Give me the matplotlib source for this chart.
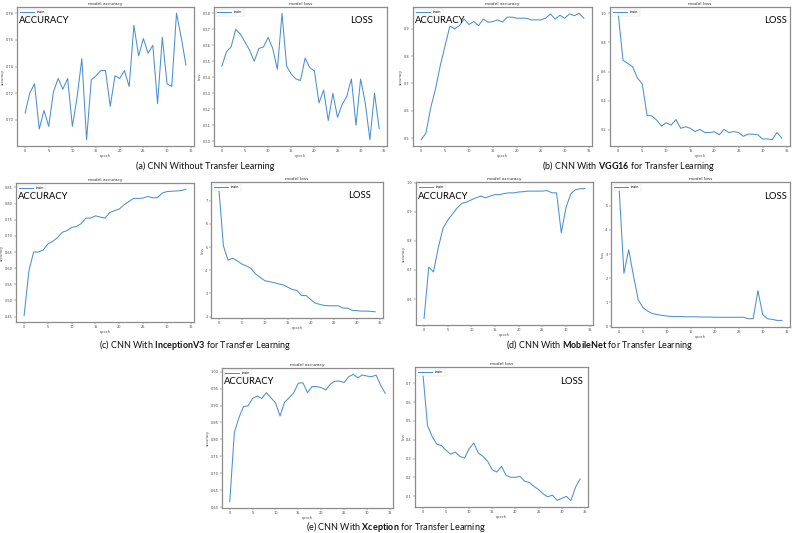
import matplotlib.pyplot as plt

plt.rcParams['mathtext.fontset'] = 'custom'
plt.rcParams['mathtext.rm'] = 'Lato'
plt.rcParams['mathtext.bf'] = 'Lato:bold'

epochs = list(range(35))

acc_a = [0.705, 0.720, 0.727, 0.693, 0.707, 0.695, 0.721, 0.731, 0.723, 0.731,
         0.695, 0.717, 0.746, 0.685, 0.730, 0.733, 0.737, 0.737, 0.710, 0.733,
         0.731, 0.737, 0.725, 0.771, 0.748, 0.761, 0.750, 0.756, 0.712, 0.762,
         0.727, 0.725, 0.780, 0.762, 0.741]
loss_a = [0.547, 0.556, 0.559, 0.570, 0.567, 0.562, 0.557, 0.550, 0.558, 0.559,
          0.565, 0.558, 0.545, 0.580, 0.547, 0.542, 0.539, 0.538, 0.552, 0.546,
          0.544, 0.524, 0.532, 0.513, 0.530, 0.515, 0.523, 0.528, 0.539, 0.510,
          0.539, 0.524, 0.501, 0.530, 0.508]

acc_b = [0.494, 0.518, 0.611, 0.680, 0.766, 0.838, 0.910, 0.900, 0.912, 0.936,
         0.916, 0.927, 0.912, 0.936, 0.924, 0.927, 0.933, 0.925, 0.943, 0.943,
         0.939, 0.939, 0.939, 0.933, 0.933, 0.933, 0.939, 0.955, 0.936, 0.950,
         0.939, 0.955, 0.948, 0.957, 0.939]
loss_b = [1.000, 0.678, 0.656, 0.633, 0.556, 0.516, 0.300, 0.296, 0.267, 0.227,
          0.249, 0.233, 0.271, 0.211, 0.222, 0.211, 0.189, 0.204, 0.182, 0.182,
          0.187, 0.167, 0.204, 0.182, 0.189, 0.182, 0.156, 0.171, 0.171, 0.167,
          0.138, 0.138, 0.133, 0.182, 0.144]

acc_c = [0.453, 0.591, 0.650, 0.650, 0.656, 0.675, 0.683, 0.694, 0.711, 0.716,
         0.726, 0.729, 0.738, 0.755, 0.755, 0.762, 0.758, 0.755, 0.772, 0.778,
         0.783, 0.796, 0.806, 0.816, 0.816, 0.817, 0.822, 0.818, 0.818, 0.832,
         0.837, 0.838, 0.839, 0.840, 0.844]
loss_c = [7.54, 5.05, 4.44, 4.52, 4.41, 4.27, 4.19, 4.08, 3.84, 3.70,
          3.55, 3.51, 3.47, 3.41, 3.37, 3.27, 3.17, 3.13, 2.91, 2.91,
          2.73, 2.58, 2.53, 2.48, 2.47, 2.47, 2.47, 2.37, 2.37, 2.27,
          2.26, 2.24, 2.24, 2.23, 2.21]

acc_d = [0.533, 0.710, 0.693, 0.776, 0.843, 0.871, 0.892, 0.913, 0.929, 0.933,
         0.941, 0.948, 0.954, 0.948, 0.954, 0.959, 0.959, 0.963, 0.965, 0.965,
         0.968, 0.969, 0.971, 0.971, 0.971, 0.971, 0.973, 0.965, 0.965, 0.828,
         0.915, 0.962, 0.976, 0.979, 0.980]
loss_d = [5.72, 2.20, 3.18, 2.09, 1.09, 0.77, 0.62, 0.52, 0.48, 0.45,
          0.42, 0.40, 0.40, 0.40, 0.39, 0.39, 0.39, 0.38, 0.38, 0.38,
          0.37, 0.37, 0.37, 0.37, 0.37, 0.37, 0.37, 0.31, 0.31, 1.48,
          0.48, 0.31, 0.28, 0.24, 0.24]

acc_e = [0.616, 0.820, 0.864, 0.897, 0.899, 0.921, 0.928, 0.921, 0.938, 0.923,
         0.908, 0.869, 0.910, 0.923, 0.938, 0.966, 0.967, 0.938, 0.956, 0.956,
         0.953, 0.946, 0.963, 0.972, 0.972, 0.968, 0.985, 0.992, 0.982, 0.990,
         0.987, 0.985, 0.990, 0.960, 0.936]
loss_e = [0.753, 0.476, 0.418, 0.377, 0.370, 0.344, 0.324, 0.335, 0.312, 0.303,
          0.353, 0.383, 0.330, 0.312, 0.286, 0.241, 0.229, 0.259, 0.211, 0.201,
          0.201, 0.206, 0.180, 0.174, 0.153, 0.136, 0.113, 0.097, 0.106, 0.079,
          0.088, 0.100, 0.077, 0.148, 0.192]

captions = ["(a) CNN Without Transfer Learning",
            r"(b) CNN With $\mathbf{VGG16}$ for Transfer Learning",
            r"(c) CNN With $\mathbf{InceptionV3}$ for Transfer Learning",
            r"(d) CNN With $\mathbf{MobileNet}$ for Transfer Learning",
            r"(e) CNN With $\mathbf{Xception}$ for Transfer Learning"]

W, H = 793, 533
fig = plt.figure(figsize=(W / 100, H / 100), dpi=100)
fig.patch.set_facecolor('white')

# pixel boxes (left, right, top, bottom) and x position of the big label
panels = [
    (acc_a, 'accuracy', (17, 194, 7, 146), 0.01),
    (loss_a, 'loss', (214, 387, 7, 146), 0.92),
    (acc_b, 'accuracy', (413, 592, 7, 146), 0.01),
    (loss_b, 'loss', (610, 790, 7, 146), 0.98),
    (acc_c, 'accuracy', (16, 194, 183, 322), 0.01),
    (loss_c, 'loss', (211, 383, 182, 318), 0.93),
    (acc_d, 'accuracy', (416, 593, 182, 325), 0.01),
    (loss_d, 'loss', (611, 790, 182, 327), 0.98),
    (acc_e, 'accuracy', (222, 393, 368, 508), 0.01),
    (loss_e, 'loss', (415, 588, 367, 507), 0.97),
]

for vals, kind, (l, r, t, b), tx in panels:
    ax = fig.add_axes([l / W, 1 - b / H, (r - l) / W, (b - t) / H])
    ax.plot(epochs, vals, color='#4a90d0', lw=0.75, label='train')
    ax.set_xticks([0, 5, 10, 15, 20, 25, 30, 35])
    ax.tick_params(labelsize=2.5, length=1.5, width=0.3, pad=1, colors='#444444')
    for s in ax.spines.values():
        s.set_color('#8c8c8c')
        s.set_linewidth(0.9)
    ax.set_title('model ' + kind, fontsize=3.2, pad=1.5, color='#333333')
    ax.set_ylabel(kind, fontsize=2.5, labelpad=0.5, color='#444444')
    ax.set_xlabel('epoch', fontsize=2.5, labelpad=0.5, color='#444444')
    leg = ax.legend(loc='upper left', fontsize=2.5, handlelength=4,
                    borderpad=0.5, frameon=True, fancybox=True)
    leg.get_frame().set_linewidth(0.3)
    if kind == 'accuracy':
        ax.text(tx, 0.90, 'ACCURACY', transform=ax.transAxes, fontsize=6.8,
                family='Lato', ha='left', va='center', color='black')
    else:
        ax.text(tx, 0.90, 'LOSS', transform=ax.transAxes, fontsize=6.8,
                family='Lato', ha='right', va='center', color='black')

cap_pos = [(205, 166), (629, 166), (195, 345), (599, 345), (396, 527)]
for txt, (cx, cy) in zip(captions, cap_pos):
    fig.text(cx / W, 1 - cy / H, txt, fontsize=6.5, family='Lato',
             ha='center', va='center', color='#111111')

fig.savefig('out.png', dpi=100)
